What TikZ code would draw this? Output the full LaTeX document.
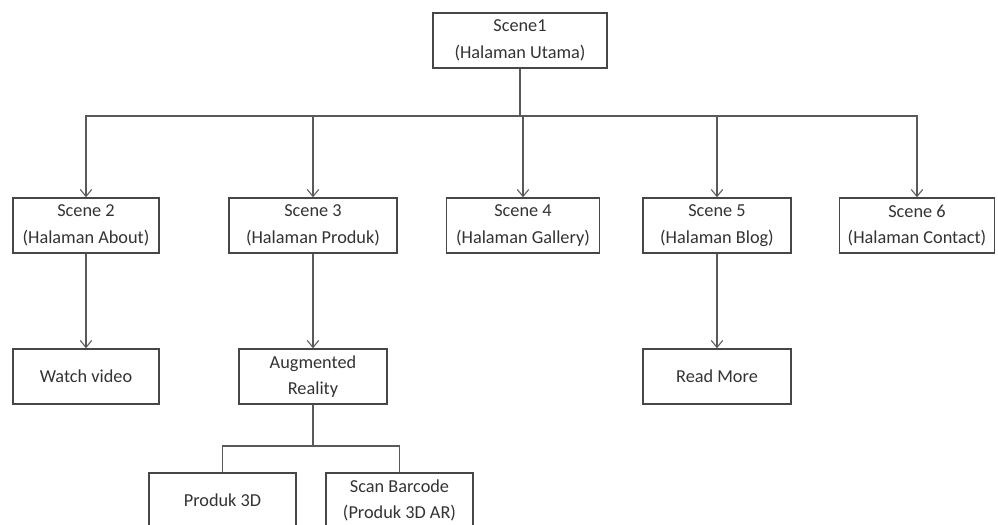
\documentclass[tikz,border=0pt]{standalone}
\usepackage{fontspec}
\setmainfont{Carlito}
\usetikzlibrary{arrows.meta, positioning}

\begin{document}
\begin{tikzpicture}[
  page/.style={rectangle,draw=black!72,line width=0.8pt,fill=white,minimum width=2.96cm,minimum height=1.1cm,align=center,text=black!80,font=\fontsize{10.4}{15}\selectfont},
  link/.style={draw=black!65,line width=0.6pt},
  arr/.style={link,-{Straight Barb[length=4pt,width=6.5pt]}}
]
  \useasboundingbox (0,0) rectangle (19.96,-10.5);
  \clip (0,0) rectangle (19.96,-10.5);

  \node[page, minimum width=3.48cm](root) at (10.40,-0.81)  {Scene1\\(Halaman Utama)};
  \node[page, minimum width=2.92cm](s2)   at (1.72,-4.51)   {Scene 2\\(Halaman About)};
  \node[page, minimum width=3.36cm](s3)   at (6.26,-4.51)   {Scene 3\\(Halaman Produk)};
  \node[page, minimum width=3.06cm](s4)   at (10.46,-4.51)  {Scene 4\\(Halaman Gallery)};
  \node[page](s5)                         at (14.34,-4.51)  {Scene 5\\(Halaman Blog)};
  \node[page, minimum width=3.10cm](s6)   at (18.34,-4.51)  {Scene 6\\(Halaman Contact)};
  \node[page, minimum width=2.92cm](watch) at (1.72,-7.53)  {Watch video};
  \node[page](ar)                         at (6.26,-7.53)   {Augmented\\Reality};
  \node[page](more)                       at (14.34,-7.53)  {Read More};
  \node[page, minimum width=2.94cm](p3d)  at (4.45,-10.01)  {Produk 3D};
  \node[page, minimum width=2.94cm](scan) at (7.99,-10.01)  {Scan Barcode\\(Produk 3D AR)};

  \coordinate (bar)   at (10.40,-2.32);
  \coordinate (arbar) at (6.26,-8.92);

  \draw[link](root.south) -- (bar);
  \foreach \s in {s2,s3,s4,s5,s6}
    \draw[arr](bar) -| (\s.north);
  \draw[arr](s2) -- (watch);
  \draw[arr](s3) -- (ar);
  \draw[arr](s5) -- (more);
  \draw[link](ar.south) -- (arbar) -| (p3d.north);
  \draw[link](arbar) -| (scan.north);
\end{tikzpicture}
\end{document}
